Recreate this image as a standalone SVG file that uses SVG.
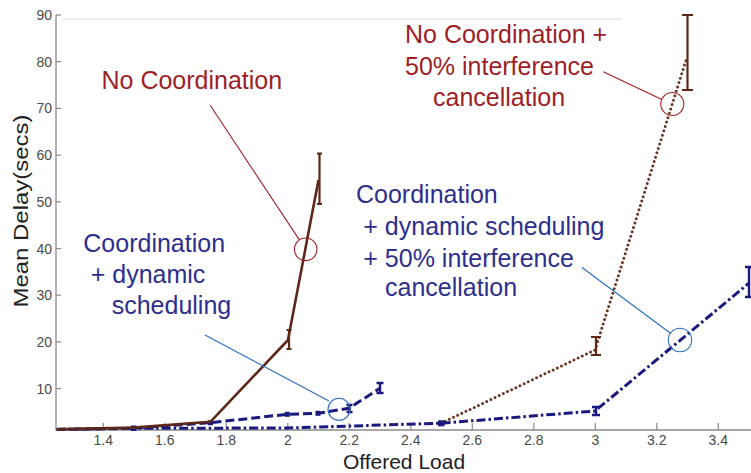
<svg xmlns="http://www.w3.org/2000/svg" width="751" height="473" viewBox="0 0 751 473">
<style>
  .axis{stroke:#8a8a8a;stroke-width:1.3;fill:none}
  .tick{stroke:#8a8a8a;stroke-width:1.2}
  .tl{font-family:"Liberation Sans",Arial,sans-serif;font-size:14px;fill:#4a4a4a}
  .axl{font-family:"Liberation Sans",Arial,sans-serif;font-size:21px;fill:#222}
  .red{font-family:"Liberation Sans",Arial,sans-serif;font-size:25px;fill:#9e1e26}
  .blue{font-family:"Liberation Sans",Arial,sans-serif;font-size:25px;fill:#2d2f8e}
  .solid{stroke:#5e2818;stroke-width:2.6;fill:none;stroke-linejoin:round}
  .dotted{stroke:#6a3422;stroke-width:3;fill:none;stroke-dasharray:0 4.6;stroke-linecap:round}
  .dashed{stroke:#1a1a7e;stroke-width:3;fill:none;stroke-dasharray:9 4}
  .dashdot{stroke:#1a1a7e;stroke-width:3;fill:none;stroke-dasharray:9 3 2.5 3}
  .ebr{stroke:#5e2818;stroke-width:2.2;fill:none}
  .ebb{stroke:#1a1a7e;stroke-width:2.4;fill:none}
  .mk{fill:#1a1a7e}
  .lred{stroke:#a02024;stroke-width:1.1;fill:none}
  .lblue{stroke:#2a6cc0;stroke-width:1.1;fill:none}
</style>
<rect width="751" height="473" fill="#ffffff"/>
<g id="axes">
  <line x1="62" y1="19" x2="622" y2="19" stroke="#dcdcdc" stroke-width="1"/>
  <path class="axis" d="M56 15 V430 H751"/>
  <g class="tick">
    <line x1="56" y1="388.6" x2="61" y2="388.6"/>
    <line x1="56" y1="341.9" x2="61" y2="341.9"/>
    <line x1="56" y1="295.2" x2="61" y2="295.2"/>
    <line x1="56" y1="248.5" x2="61" y2="248.5"/>
    <line x1="56" y1="201.8" x2="61" y2="201.8"/>
    <line x1="56" y1="155.1" x2="61" y2="155.1"/>
    <line x1="56" y1="108.4" x2="61" y2="108.4"/>
    <line x1="56" y1="61.7" x2="61" y2="61.7"/>
    <line x1="56" y1="15" x2="61" y2="15"/>
    <line x1="103.3" y1="430" x2="103.3" y2="423"/>
    <line x1="164.8" y1="430" x2="164.8" y2="423"/>
    <line x1="226.3" y1="430" x2="226.3" y2="423"/>
    <line x1="287.8" y1="430" x2="287.8" y2="423"/>
    <line x1="349.3" y1="430" x2="349.3" y2="423"/>
    <line x1="410.8" y1="430" x2="410.8" y2="423"/>
    <line x1="472.3" y1="430" x2="472.3" y2="423"/>
    <line x1="533.8" y1="430" x2="533.8" y2="423"/>
    <line x1="595.3" y1="430" x2="595.3" y2="423"/>
    <line x1="656.8" y1="430" x2="656.8" y2="423"/>
    <line x1="718.3" y1="430" x2="718.3" y2="423"/>
  </g>
  <g class="tl" text-anchor="end">
    <text x="52" y="393.6">10</text>
    <text x="52" y="346.9">20</text>
    <text x="52" y="300.2">30</text>
    <text x="52" y="253.5">40</text>
    <text x="52" y="206.8">50</text>
    <text x="52" y="160.1">60</text>
    <text x="52" y="113.4">70</text>
    <text x="52" y="66.7">80</text>
    <text x="52" y="20">90</text>
  </g>
  <g class="tl" text-anchor="middle">
    <text x="103.3" y="445">1.4</text>
    <text x="164.8" y="445">1.6</text>
    <text x="226.3" y="445">1.8</text>
    <text x="287.8" y="445">2</text>
    <text x="349.3" y="445">2.2</text>
    <text x="410.8" y="445">2.4</text>
    <text x="472.3" y="445">2.6</text>
    <text x="533.8" y="445">2.8</text>
    <text x="595.3" y="445">3</text>
    <text x="656.8" y="445">3.2</text>
    <text x="718.3" y="445">3.4</text>
  </g>
  <text class="axl" x="404" y="468.5" text-anchor="middle">Offered Load</text>
  <text class="axl" transform="translate(28 211) rotate(-90)" text-anchor="middle" textLength="193" lengthAdjust="spacingAndGlyphs">Mean Delay(secs)</text>
</g>
<g id="connectors">
  <g id="series-no-coord-ic">
    <polyline class="dotted" points="441,423.2 595,350 687,57"/>
    <path class="ebr" d="M596 337 V355 M591 337 H601 M591 355 H601 M687.5 15 V90 M682 15 H693 M682 90 H693"/>
  </g>
  <g id="series-coord-dyn-ic">
    <polyline class="dashdot" points="56.7,429.2 133.5,428.3 287.3,428 441,423.2 595,411 748.5,283.5"/>
    <rect class="mk" x="131" y="425.5" width="5.5" height="5.5"/>
    <rect class="mk" x="438" y="420.3" width="6.5" height="6"/>
    <path class="ebb" d="M596 407 V415 M592 407 H600 M592 415 H600 M749 267 V297 M745 267 H753 M745 297 H753"/>
  </g>
  <g id="series-coord-dyn">
    <polyline class="dashed" points="56.7,429.6 133.5,428.2 210.4,422.7 287.3,414.3 318,413.3 348.8,408.3 379.5,388.6"/>
    <rect class="mk" x="208" y="420.2" width="5" height="5"/>
    <rect class="mk" x="284.8" y="411.8" width="5" height="5"/>
    <rect class="mk" x="315.5" y="410.8" width="5" height="5"/>
    <path class="ebb" d="M349.5 405 V412 M346.5 405 H352.5 M346.5 412 H352.5 M380 383 V393 M376.5 383 H383.5 M376.5 393 H383.5"/>
  </g>
  <g id="series-no-coord">
    <polyline class="solid" points="56.7,429.4 133.5,427.6 210.4,421.8 288,340 318.5,180"/>
    <path class="ebr" d="M289 330 V349 M286.5 330 H291.5 M286.5 349 H291.5 M319.5 153.5 V204 M317 153.5 H322 M317 204 H322"/>
  </g>
  <line class="lred" x1="210" y1="105" x2="299.4" y2="239.9"/>
  <line class="lred" x1="603.3" y1="71.7" x2="661.8" y2="99.4"/>
  <line class="lblue" x1="205" y1="335" x2="329" y2="401"/>
  <line class="lblue" x1="582" y1="267.5" x2="670.5" y2="333.2"/>
</g>
<g id="callout-no-coord">
  <text class="red" x="101.5" y="89.3">No Coordination</text>
  <circle class="lred" cx="305.7" cy="249.3" r="11.3"/>
</g>
<g id="callout-no-coord-ic">
  <text class="red" x="405" y="43.3">No Coordination +</text>
  <text class="red" x="405" y="75">50% interference</text>
  <text class="red" x="433" y="105.5">cancellation</text>
  <circle class="lred" cx="672.3" cy="104" r="11.5"/>
</g>
<g id="callout-coord-dyn">
  <text class="blue" x="83.3" y="252.3">Coordination</text>
  <text class="blue" x="90.7" y="283">+ dynamic</text>
  <text class="blue" x="111.7" y="314">scheduling</text>
  <circle class="lblue" cx="339" cy="409.3" r="11"/>
</g>
<g id="callout-coord-dyn-ic">
  <text class="blue" x="356" y="203.3">Coordination</text>
  <text class="blue" x="363.3" y="235">+ dynamic scheduling</text>
  <text class="blue" x="363.3" y="266.7">+ 50% interference</text>
  <text class="blue" x="385" y="295.5">cancellation</text>
  <circle class="lblue" cx="680" cy="340" r="11.7"/>
</g>
</svg>
